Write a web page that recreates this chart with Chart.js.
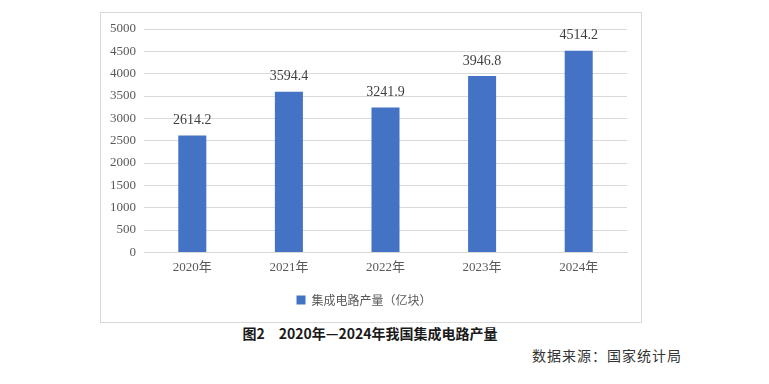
<!DOCTYPE html>
<html>
<head>
<meta charset="utf-8">
<script src="https://cdn.jsdelivr.net/npm/chart.js@4/dist/chart.umd.min.js"></script>
<style>
  body { margin: 0; width: 769px; height: 384px; background: #fff; position: relative; overflow: hidden; }
  #frame { position: absolute; left: 100px; top: 12px; width: 540px; height: 309px; border: 1px solid #d9d9d9; }
  #caption { position: absolute; left: 0; width: 740px; top: 323px; text-align: center;
    font: bold 14px "Noto Sans CJK SC", sans-serif; color: #1a1a1a; }
  #source { position: absolute; left: 532px; top: 345px; font: 14px "Noto Sans CJK SC", sans-serif;
    color: #333; letter-spacing: 1px; }
</style>
</head>
<body>
<div id="frame"><canvas id="chart"></canvas></div>
<div id="caption">图2　2020年—2024年我国集成电路产量</div>
<div id="source">数据来源：国家统计局</div>
<script>
// data
const years = ['2020年', '2021年', '2022年', '2023年', '2024年'];
const output = [2614.2, 3594.4, 3241.9, 3946.8, 4514.2];
const seriesName = '集成电路产量（亿块）';

const serif = '"Liberation Serif", "Noto Sans CJK SC", serif';

// value labels above each bar
const barLabels = {
  id: 'barLabels',
  afterDatasetsDraw(chart) {
    const ctx = chart.ctx;
    ctx.save();
    ctx.font = '14px ' + serif;
    ctx.fillStyle = '#404040';
    ctx.textAlign = 'center';
    ctx.textBaseline = 'middle';
    chart.getDatasetMeta(0).data.forEach((bar, i) => {
      ctx.fillText(output[i].toFixed(1), bar.x, bar.y - 15);
    });
    ctx.restore();
  }
};

new Chart(document.getElementById('chart'), {
  type: 'bar',
  data: {
    labels: years,
    datasets: [{
      label: seriesName,
      data: output,
      backgroundColor: '#4472c4',
      barPercentage: 0.58,
      categoryPercentage: 0.5
    }]
  },
  options: {
    responsive: true,
    maintainAspectRatio: false,
    animation: false,
    layout: { padding: { top: 16, right: 14, bottom: 6, left: 0 } },
    plugins: {
      legend: {
        position: 'bottom',
        labels: {
          boxWidth: 9, boxHeight: 9, padding: 12,
          color: '#595959',
          font: { size: 12, family: '"Noto Sans CJK SC", sans-serif' }
        }
      },
      tooltip: { enabled: false }
    },
    scales: {
      x: {
        grid: { display: false, drawTicks: false },
        border: { color: '#d9d9d9' },
        ticks: { color: '#595959', font: { size: 13, family: serif }, padding: 7 }
      },
      y: {
        min: 0, max: 5000,
        afterFit(s) { s.width = 43; },
        grid: { color: '#d9d9d9', drawTicks: false },
        border: { display: false },
        ticks: {
          stepSize: 500, color: '#595959', font: { size: 13, family: serif }, padding: 8,
          callback: v => String(v)
        }
      }
    }
  },
  plugins: [barLabels]
});
</script>
</body>
</html>
